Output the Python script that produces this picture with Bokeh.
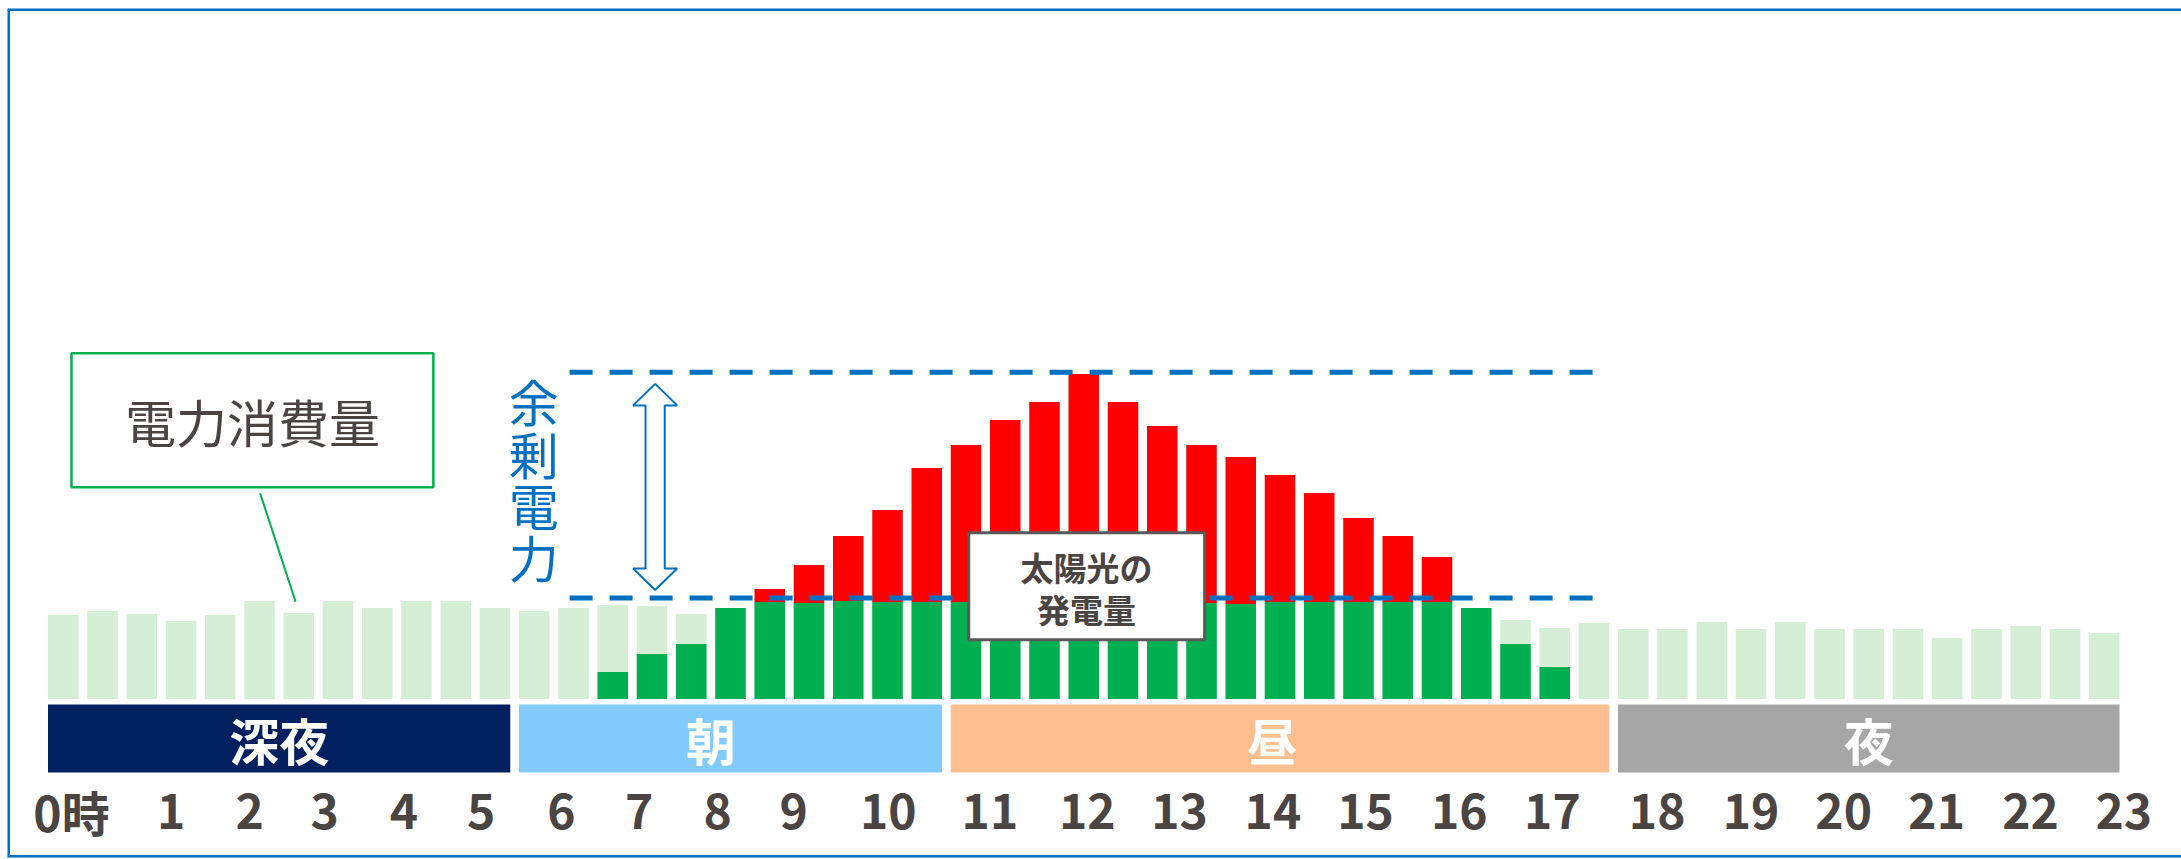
import numpy as np
from bokeh.plotting import figure
from bokeh.models import Range1d, ColumnDataSource, Span
from bokeh.core.properties import value
from bokeh.embed import file_html
from bokeh.resources import INLINE

# ---------------- data ----------------
# one bar per time slot of the illustration (53 slots from 0時 to 23時)
slots = list(range(53))
consumption = [8.4, 8.8, 8.5, 7.8, 8.4, 9.8, 8.6, 9.8, 9.1, 9.8, 9.8, 9.1,
               8.8, 9.1, 9.4, 9.3, 8.5, 9.1, 9.7, 9.6, 9.8, 9.7, 9.7,
               9.7, 9.7, 9.7, 9.7, 9.7, 9.7, 9.6, 9.5, 9.7, 9.7, 9.7, 9.7, 9.7, 9.1, 7.9, 7.1, 7.6,
               7.0, 7.0, 7.7, 7.0, 7.7, 7.0, 7.0, 7.0, 6.1, 7.0, 7.3, 7.0, 6.6]
solar = [0, 0, 0, 0, 0, 0, 0, 0, 0, 0, 0, 0,
         0, 0, 2.7, 4.5, 5.5, 9.1, 11.0, 13.4, 16.3, 18.9, 23.1,
         25.4, 27.9, 29.7, 32.5, 29.7, 27.3, 25.4, 24.2, 22.4, 20.6, 18.1, 16.3, 14.2, 9.1, 5.5, 3.2, 0,
         0, 0, 0, 0, 0, 0, 0, 0, 0, 0, 0, 0, 0]

periods = ["深夜", "朝", "昼", "夜"]
period_first_slot = [0, 12, 23, 40]
period_last_slot = [11, 22, 39, 52]

hour_labels = ["0時", "1", "2", "3", "4", "5", "6", "7", "8", "9", "10", "11",
               "12", "13", "14", "15", "16", "17", "18", "19", "20", "21", "22", "23"]
hour_label_x = [0.21, 2.75, 4.75, 6.66, 8.68, 10.65, 12.69, 14.67, 16.67, 18.61, 21.02, 23.61,
                26.09, 28.44, 30.82, 33.18, 35.57, 37.94, 40.61, 43.0, 45.36, 47.73, 50.12, 52.5]

baseline_level = 10.1  # lower dashed line (daytime consumption)

# ---------------- styles / layout ----------------
C_LIGHT = "#d5efd6"
C_GREEN = "#00b050"
C_RED = "#ff0000"
C_BLUE = "#0070c0"
C_TEXT = "#4a4543"
period_colors = ["#002060", "#82cbff", "#ffbf90", "#a6a6a6"]
period_label_x = [5.5, 16.5, 30.8, 46.0]
FONT = value("Noto Sans CJK JP")

W, H = 2181, 859
BL, BT, BR, BB = 7, 8, 0, 2
PX_X = 39.25      # pixels per slot
X0_PX = 62.75     # pixel centre of slot 0
PX_Y = 10.0       # pixels per unit
Y0_PX = 698.5     # pixel row of the baseline
bar_w = 30.5 / PX_X

x_start = (BL - X0_PX) / PX_X
x_end = (W - BR - X0_PX) / PX_X
y_end = (Y0_PX - BT) / PX_Y
y_start = (Y0_PX - (H - BB)) / PX_Y

p = figure(width=W, height=H, output_backend="svg", toolbar_location=None,
           x_range=Range1d(x_start, x_end), y_range=Range1d(y_start, y_end),
           min_border_left=BL, min_border_top=BT, min_border_right=BR, min_border_bottom=BB)
p.axis.visible = False
p.xgrid.visible = False
p.ygrid.visible = False
p.background_fill_color = "white"
p.border_fill_color = "white"
p.outline_line_color = None

# frame border on left, top and bottom (open on the right, as in the picture)
for loc, dim in [(x_start, "height"), (y_end, "width"), (y_start, "width")]:
    p.add_layout(Span(location=loc, dimension=dim, line_color=C_BLUE, line_width=5))

cons = np.array(consumption)
sol = np.array(solar)
green_top = np.minimum(cons, sol)
has_red = sol > cons

# consumption bars
p.vbar(x=slots, width=bar_w, top=consumption, bottom=0, fill_color=C_LIGHT, line_color=None)
# self-consumed solar
gi = [i for i in slots if green_top[i] > 0]
p.vbar(x=gi, width=bar_w, top=[green_top[i] for i in gi], bottom=0,
       fill_color=C_GREEN, line_color=None)
# surplus solar
ri = [i for i in slots if has_red[i]]
p.vbar(x=ri, width=bar_w, top=[sol[i] for i in ri], bottom=[cons[i] for i in ri],
       fill_color=C_RED, line_color=None)

# period bands
band_src = ColumnDataSource(dict(
    left=[f - bar_w / 2 for f in period_first_slot],
    right=[l + bar_w / 2 for l in period_last_slot],
    color=period_colors, label=periods, lx=period_label_x))
band_top = -5.5 / PX_Y
band_bot = -73.5 / PX_Y
p.quad(left="left", right="right", top=band_top, bottom=band_bot, fill_color="color",
       line_color=None, source=band_src)
p.text(x="lx", y=(band_top + band_bot) / 2, text="label", source=band_src,
       text_font=FONT, text_font_style="bold", text_font_size="50px", text_color="white",
       text_align="center", text_baseline="middle")

# hour labels
p.text(x=hour_label_x, y=[-11.15] * len(hour_labels), text=hour_labels,
       text_font=FONT, text_font_style="bold", text_font_size="48px", text_color=C_TEXT,
       text_align="center", text_baseline="middle")

# surplus dashed lines
upper_level = max(solar) + 0.17
x_dash0, x_dash1 = 12.9, 39.2
p.segment(x0=[x_dash0, x_dash0], x1=[x_dash1, x_dash1],
          y0=[upper_level, baseline_level], y1=[upper_level, baseline_level],
          line_color=C_BLUE, line_width=5, line_dash="23 17", line_cap="butt")

# double-headed hollow arrow
ax = 15.08
a_top = upper_level - 1.16
a_bot = baseline_level + 0.8
sh = 9.6 / PX_X
hh = 22.0 / PX_X
hl = 21.5 / PX_Y
arrow_x = [ax, ax + hh, ax + sh, ax + sh, ax + hh, ax, ax - hh, ax - sh, ax - sh, ax - hh]
arrow_y = [a_top, a_top - hl, a_top - hl, a_bot + hl, a_bot + hl, a_bot,
           a_bot + hl, a_bot + hl, a_top - hl, a_top - hl]
p.patch(arrow_x, arrow_y, fill_color="white", line_color=C_BLUE, line_width=2)

# 余剰電力 vertical label
surplus_chars = ["余", "剰", "電", "力"]
p.text(x=[11.99] * 4, y=[29.95, 24.6, 19.55, 14.35], text=surplus_chars,
       text_font=FONT, text_font_size="50px", text_color=C_BLUE,
       text_align="center", text_baseline="middle")

# 電力消費量 callout
p.quad(left=[0.21], right=[9.43], top=[34.58], bottom=[21.18],
       fill_color="white", line_color=C_GREEN, line_width=2.5)
p.text(x=[4.82], y=[27.85], text=["電力消費量"], text_font=FONT, text_font_size="51px",
       text_color=C_TEXT, text_align="center", text_baseline="middle")
p.segment(x0=[5.015], y0=[20.58], x1=[5.92], y1=[consumption[6] + 1.13],
          line_color=C_GREEN, line_width=2)

# 太陽光の発電量 callout
p.quad(left=[23.07], right=[29.08], top=[16.62], bottom=[5.92],
       fill_color="white", line_color="#595959", line_width=3)
p.text(x=[26.07, 26.07], y=[13.18, 9.02], text=["太陽光の", "発電量"], text_font=FONT,
       text_font_style="bold", text_font_size="33px", text_color=C_TEXT,
       text_align="center", text_baseline="middle")

open("out.html", "w").write(file_html(p, INLINE))
